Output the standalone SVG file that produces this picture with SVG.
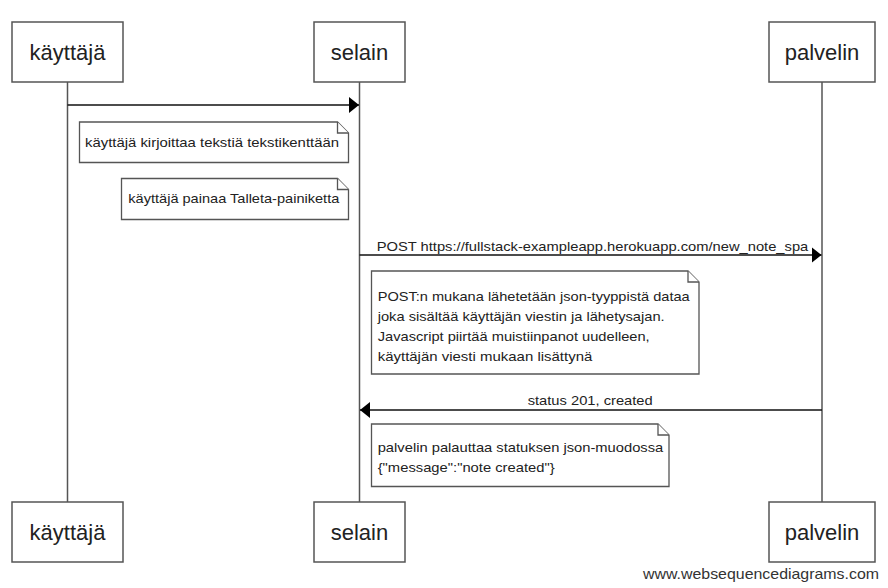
<svg xmlns="http://www.w3.org/2000/svg" width="888" height="588" viewBox="0 0 888 588">
<style>
.box{fill:#fff;stroke:#555;stroke-width:1.5}
.life{stroke:#555;stroke-width:1.5;fill:none}
.msg{stroke:#111;stroke-width:1.3;fill:none}
.note{fill:#fff;stroke:#555;stroke-width:1.3}
.lbl{font-family:"Liberation Sans",Arial,sans-serif;font-size:22px;fill:#222;text-anchor:middle}
.t{font-family:"Liberation Sans",Arial,sans-serif;font-size:13.5px;fill:#222}
.wm{font-family:"Liberation Sans",Arial,sans-serif;font-size:15px;fill:#333;text-anchor:end}
</style>
<defs>
<marker id="ah" markerUnits="userSpaceOnUse" markerWidth="12" markerHeight="18" refX="10" refY="8" orient="auto">
<path d="M0,0 L10,8 L0,16 Z" fill="#000"/>
</marker>
</defs>
<rect width="888" height="588" fill="#fff"/>
<g id="lifelines">
<line class="life" x1="67.5" y1="82" x2="67.5" y2="502"/>
<line class="life" x1="359.5" y1="82" x2="359.5" y2="502"/>
<line class="life" x1="822" y1="82" x2="822" y2="502"/>
</g>
<g id="kayttaja">
<rect class="box" x="12" y="22" width="111" height="60"/>
<text class="lbl" x="67.5" y="60">käyttäjä</text>
<rect class="box" x="12" y="502" width="111" height="60"/>
<text class="lbl" x="67.5" y="540">käyttäjä</text>
</g>
<g id="selain">
<rect class="box" x="314" y="22" width="91" height="60"/>
<text class="lbl" x="359.5" y="60">selain</text>
<rect class="box" x="314" y="502" width="91" height="60"/>
<text class="lbl" x="359.5" y="540">selain</text>
</g>
<g id="palvelin">
<rect class="box" x="769" y="22" width="106" height="60"/>
<text class="lbl" x="822" y="60">palvelin</text>
<rect class="box" x="769" y="502" width="106" height="60"/>
<text class="lbl" x="822" y="540">palvelin</text>
</g>
<g id="connectors">
<line class="msg" x1="67.5" y1="105" x2="359" y2="105" marker-end="url(#ah)"/>
<line class="msg" x1="359.5" y1="255" x2="821.5" y2="255" marker-end="url(#ah)"/>
<text class="t" x="376.7" y="251" textLength="431.6" lengthAdjust="spacingAndGlyphs">POST https://fullstack-exampleapp.herokuapp.com/new_note_spa</text>
<line class="msg" x1="822" y1="410" x2="360" y2="410" marker-end="url(#ah)"/>
<text class="t" x="527.7" y="405" textLength="125" lengthAdjust="spacingAndGlyphs">status 201, created</text>
</g>
<g id="note1">
<path class="note" d="M79.5,122 H337.5 L348.5,133 V162.5 H79.5 Z"/>
<path class="note" d="M337.5,122 V133 H348.5" fill="none"/>
<text class="t" x="85" y="146.7" textLength="254" lengthAdjust="spacingAndGlyphs">käyttäjä kirjoittaa tekstiä tekstikenttään</text>
</g>
<g id="note2">
<path class="note" d="M121.5,178.5 H337.5 L348.5,189.5 V219.5 H121.5 Z"/>
<path class="note" d="M337.5,178.5 V189.5 H348.5" fill="none"/>
<text class="t" x="128.3" y="203.3" textLength="211" lengthAdjust="spacingAndGlyphs">käyttäjä painaa Talleta-painiketta</text>
</g>
<g id="note3">
<path class="note" d="M371.5,271 H688 L699,282 V374 H371.5 Z"/>
<path class="note" d="M688,271 V282 H699" fill="none"/>
<text class="t" x="377.7" y="301" textLength="312" lengthAdjust="spacingAndGlyphs">POST:n mukana lähetetään json-tyyppistä dataa</text>
<text class="t" x="377.7" y="321" textLength="287" lengthAdjust="spacingAndGlyphs">joka sisältää käyttäjän viestin ja lähetysajan.</text>
<text class="t" x="377.7" y="341" textLength="272" lengthAdjust="spacingAndGlyphs">Javascript piirtää muistiinpanot uudelleen,</text>
<text class="t" x="377.7" y="361" textLength="214.6" lengthAdjust="spacingAndGlyphs">käyttäjän viesti mukaan lisättynä</text>
</g>
<g id="note4">
<path class="note" d="M371.5,424 H658 L669,435 V486.5 H371.5 Z"/>
<path class="note" d="M658,424 V435 H669" fill="none"/>
<text class="t" x="377.7" y="451.7" textLength="285.6" lengthAdjust="spacingAndGlyphs">palvelin palauttaa statuksen json-muodossa</text>
<text class="t" x="377.7" y="471.7" textLength="177" lengthAdjust="spacingAndGlyphs">{"message":"note created"}</text>
</g>
<text class="wm" x="879" y="579" textLength="236" lengthAdjust="spacingAndGlyphs">www.websequencediagrams.com</text>
</svg>
